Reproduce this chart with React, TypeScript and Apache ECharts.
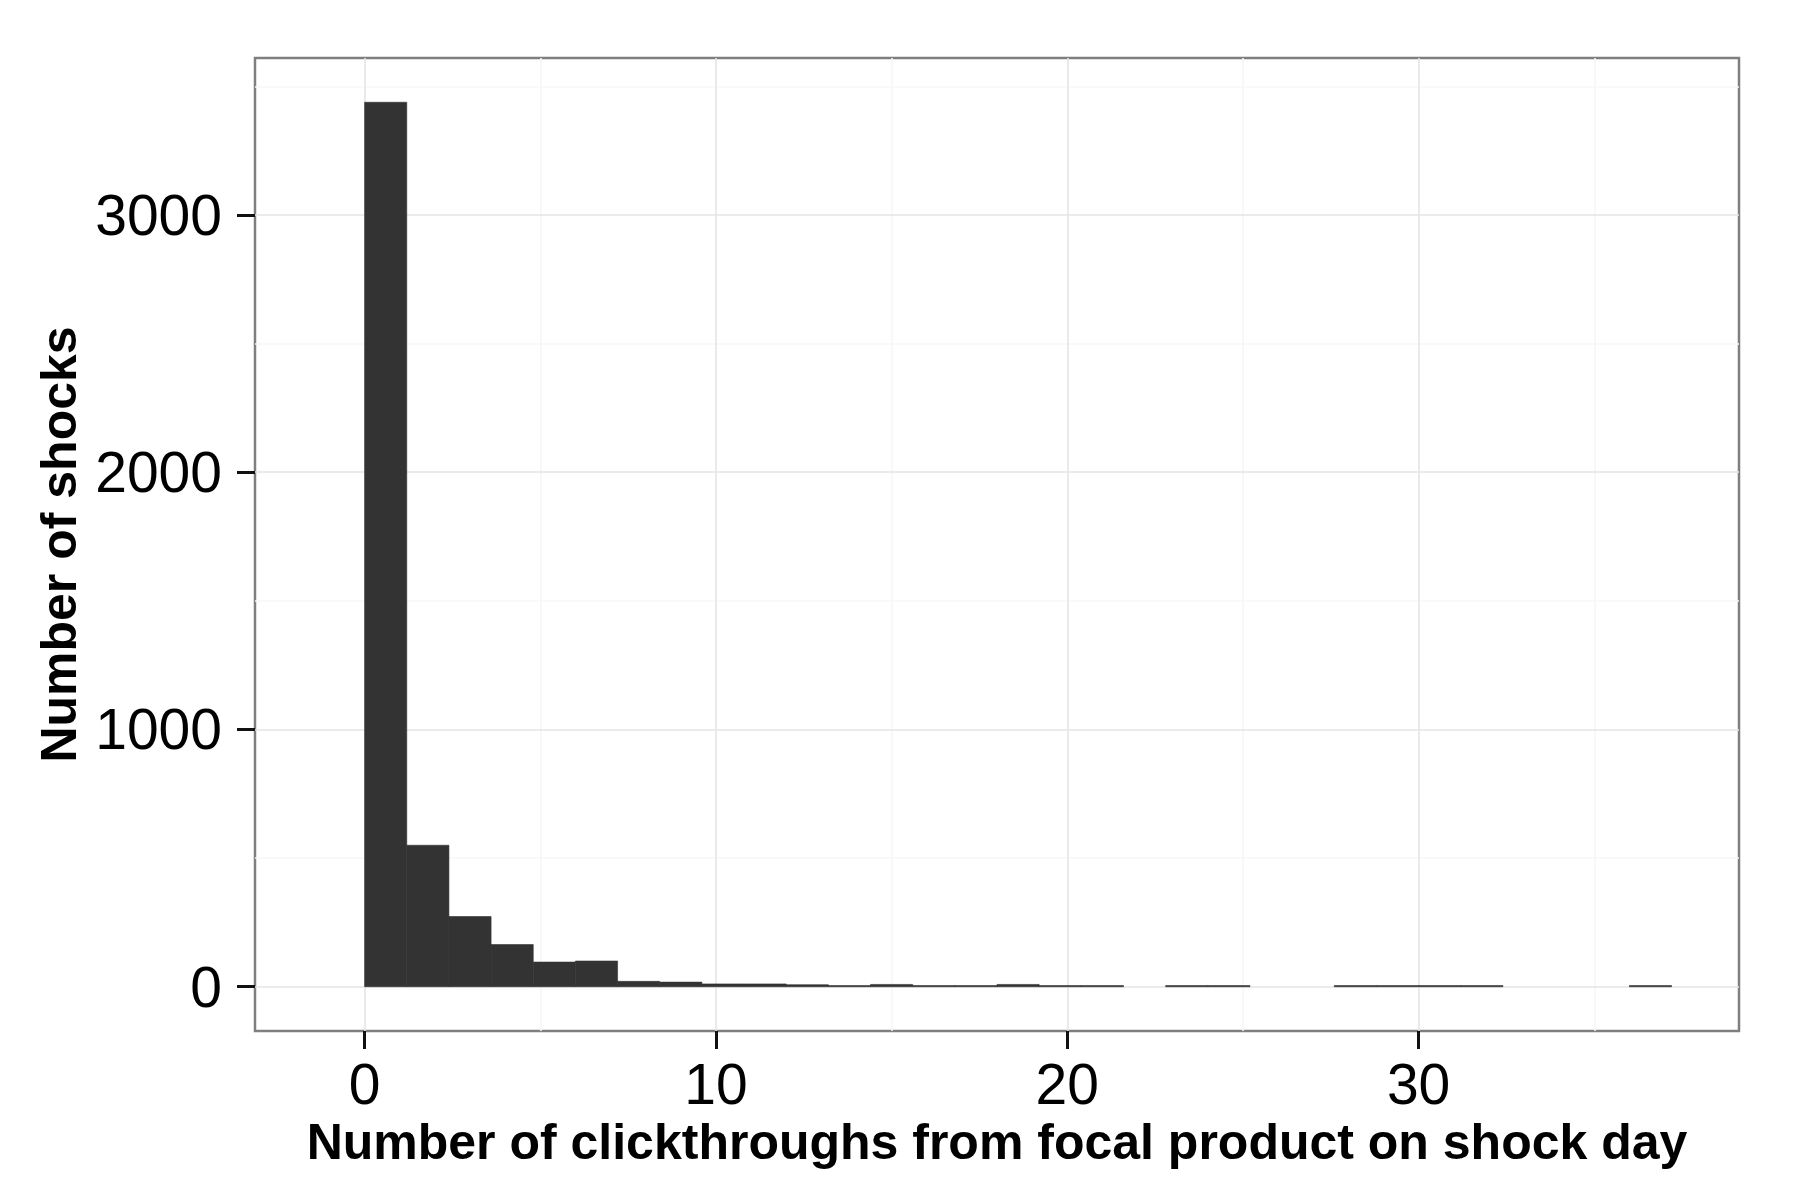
import React, { useEffect, useRef } from "react";
import * as echarts from "echarts";

// Histogram bins (left edges) and counts
const BIN_WIDTH = 1.2;
const binStarts = [
  -1.2, 0, 1.2, 2.4, 3.6, 4.8, 6.0, 7.2, 8.4, 9.6, 10.8, 12.0, 13.2, 14.4, 15.6, 16.8,
  18.0, 19.2, 20.4, 21.6, 22.8, 24.0, 25.2, 26.4, 27.6, 28.8, 30.0, 31.2, 32.4, 33.6, 34.8, 36.0,
];
const counts = [
  0, 3438, 550, 273, 164, 96, 100, 21, 18, 11, 11, 8, 2, 9, 4, 2,
  9, 2, 2, 0, 1, 1, 0, 0, 1, 1, 1, 1, 0, 0, 0, 1,
];

const xTicks = [0, 10, 20, 30];
const xMinorGrid = [5, 15, 25, 35];
const yTicks = [0, 1000, 2000, 3000];
const yMinorGrid = [500, 1500, 2500, 3500];

const X_MIN = -3.12;
const X_MAX = 39.12;
const Y_MIN = -172;
const Y_MAX = 3610;

const xTitle = "Number of clickthroughs from focal product on shock day";
const yTitle = "Number of shocks";

const FONT = "'Liberation Sans', Arial, Helvetica, sans-serif";

export default function App() {
  const ref = useRef<HTMLDivElement>(null);

  useEffect(() => {
    if (!ref.current) return;
    const chart = echarts.init(ref.current, undefined, { renderer: "svg" });

    const histData = binStarts.map((s, i) => [s, s + BIN_WIDTH, counts[i]]);

    const majorLine = { color: "#e5e5e5", width: 1.6, type: "solid" };
    const minorLine = { color: "#f7f7f7", width: 1.6, type: "solid" };

    const option: any = {
      animation: false,
      backgroundColor: "#ffffff",
      grid: {
        left: 255,
        right: 61,
        top: 58,
        bottom: 168,
        show: true,
        borderColor: "#7f7f7f",
        borderWidth: 2.5,
        backgroundColor: "#ffffff",
      },
      xAxis: {
        type: "value",
        min: X_MIN,
        max: X_MAX,
        name: xTitle,
        nameLocation: "middle",
        nameGap: 77,
        nameTextStyle: { fontFamily: FONT, fontWeight: "bold", fontSize: 50, color: "#000" },
        axisLine: { show: false, onZero: false },
        axisTick: {
          show: true,
          length: 18,
          customValues: xTicks,
          lineStyle: { color: "#111", width: 3 },
        },
        axisLabel: {
          customValues: xTicks,
          margin: 24,
          fontFamily: FONT,
          fontSize: 57,
          color: "#000",
          formatter: (v: number) => String(v),
        },
        splitLine: { show: false },
      },
      yAxis: {
        type: "value",
        min: Y_MIN,
        max: Y_MAX,
        name: yTitle,
        nameLocation: "middle",
        nameRotate: 90,
        nameGap: 146,
        nameTextStyle: { fontFamily: FONT, fontWeight: "bold", fontSize: 50, color: "#000" },
        axisLine: { show: false, onZero: false },
        axisTick: {
          show: true,
          length: 18,
          customValues: yTicks,
          lineStyle: { color: "#111", width: 3 },
        },
        axisLabel: {
          customValues: yTicks,
          margin: 33,
          fontFamily: FONT,
          fontSize: 57,
          color: "#000",
          formatter: (v: number) => String(v),
        },
        splitLine: { show: false },
      },
      series: [
        {
          type: "line",
          data: [],
          z: 1,
          silent: true,
          markLine: {
            silent: true,
            symbol: ["none", "none"],
            label: { show: false },
            animation: false,
            data: [
              ...yMinorGrid.map((v) => ({ yAxis: v, lineStyle: minorLine })),
              ...xMinorGrid.map((v) => ({ xAxis: v, lineStyle: minorLine })),
              ...yTicks.map((v) => ({ yAxis: v, lineStyle: majorLine })),
              ...xTicks.map((v) => ({ xAxis: v, lineStyle: majorLine })),
            ],
          },
        },
        {
          type: "custom",
          z: 5,
          silent: true,
          data: histData,
          encode: { x: [0, 1], y: 2 },
          renderItem: (params: any, api: any) => {
            const x0 = api.value(0);
            const x1 = api.value(1);
            const c = api.value(2);
            if (!c) return null;
            const pTop = api.coord([x0, c]);
            const pBase = api.coord([x1, 0]);
            let h = pBase[1] - pTop[1];
            if (h < 1.2) h = 1.2;
            return {
              type: "rect",
              shape: { x: pTop[0], y: pBase[1] - h, width: pBase[0] - pTop[0], height: h },
              style: { fill: "#333333", stroke: "#333333", lineWidth: 0.6 },
            };
          },
        },
      ],
    };

    chart.setOption(option);
    return () => chart.dispose();
  }, []);

  return (
    <div
      ref={ref}
      style={{ position: "absolute", left: 0, top: 0, width: "1800px", height: "1199px" }}
    />
  );
}
